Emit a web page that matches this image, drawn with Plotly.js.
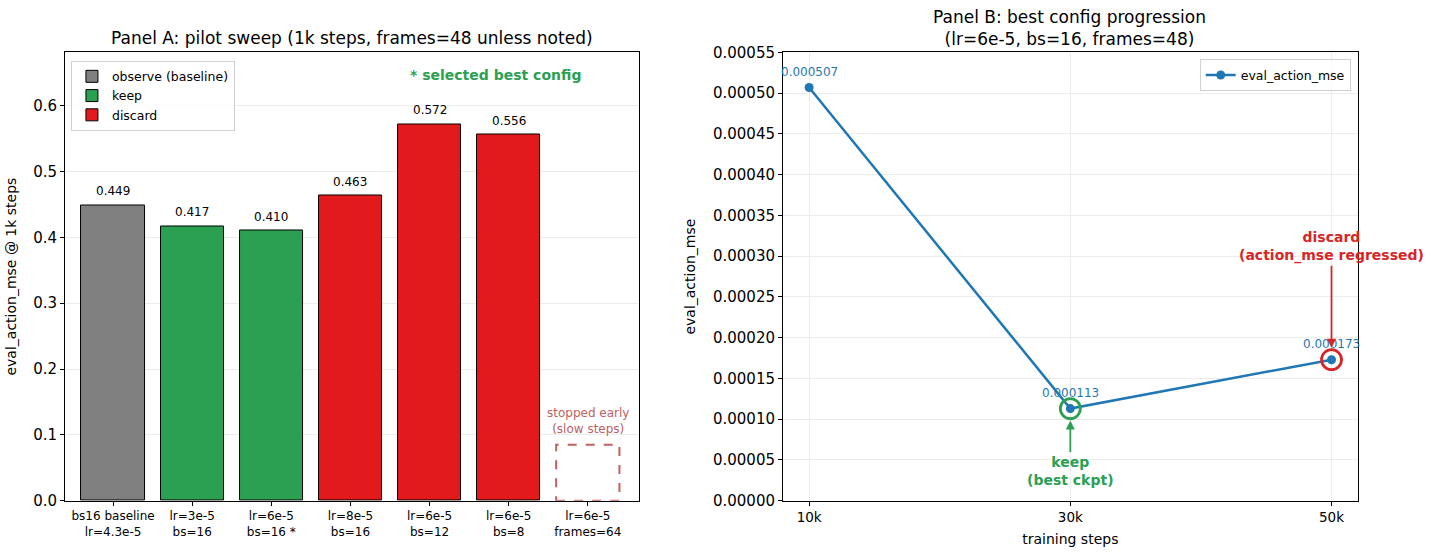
<!DOCTYPE html>
<html>
<head>
<meta charset="utf-8">
<script src="https://cdn.plot.ly/plotly-3.0.1.min.js"></script>
<style>
  body { margin: 0; background: #fff; }
  #chart { width: 1442px; height: 556px; }
</style>
</head>
<body>
<div id="chart"></div>
<script>
// Panel A: pilot sweep at 1k steps
const sweepLabels = ['bs16 baseline<br>lr=4.3e-5', 'lr=3e-5<br>bs=16', 'lr=6e-5<br>bs=16 *',
                     'lr=8e-5<br>bs=16', 'lr=6e-5<br>bs=12', 'lr=6e-5<br>bs=8', 'lr=6e-5<br>frames=64'];
const sweepMse = [0.449, 0.417, 0.410, 0.463, 0.572, 0.556, null];
const sweepStatus = ['observe', 'keep', 'keep', 'discard', 'discard', 'discard', 'stopped'];
const stoppedBoxHeight = 0.085;

// Panel B: best config progression
const steps = [10000, 30000, 50000];
const stepLabels = ['10k', '30k', '50k'];
const evalMse = [0.000507, 0.000113, 0.000173];
const keepIdx = 1;
const discardIdx = 2;

const FONT = 'DejaVu Sans, sans-serif';
const colors = { observe: '#808080', keep: '#2ca052', discard: '#e31a1c' };
const legendNames = { observe: 'observe (baseline)', keep: 'keep', discard: 'discard' };
const blue = '#1f77b4';
const red = '#d62728';
const stopColor = '#c0605f';

let traces = [];
['observe', 'keep', 'discard'].forEach(st => {
    let xs = [], ys = [];
    sweepMse.forEach((v, i) => {
        if (sweepStatus[i] === st) { xs.push(i); ys.push(v); }
    });
    traces.push({
        type: 'bar', x: xs, y: ys, name: legendNames[st], width: 0.8,
        marker: { color: colors[st], line: { color: '#000', width: 1 } },
        xaxis: 'x', yaxis: 'y', legend: 'legend', hoverinfo: 'x+y'
    });
});

traces.push({
    type: 'scatter', mode: 'lines+markers', x: steps, y: evalMse, name: 'eval_action_mse',
    line: { color: blue, width: 2.5 }, marker: { color: blue, size: 9 },
    xaxis: 'x2', yaxis: 'y2', legend: 'legend2'
});
// highlight rings round the kept and discarded checkpoints
traces.push({
    type: 'scatter', mode: 'markers', x: [steps[keepIdx]], y: [evalMse[keepIdx]], showlegend: false,
    marker: { size: 20, color: 'rgba(0,0,0,0)', line: { color: colors.keep, width: 2.8 } },
    xaxis: 'x2', yaxis: 'y2', hoverinfo: 'skip'
});
traces.push({
    type: 'scatter', mode: 'markers', x: [steps[discardIdx]], y: [evalMse[discardIdx]], showlegend: false,
    marker: { size: 20, color: 'rgba(0,0,0,0)', line: { color: red, width: 2.8 } },
    xaxis: 'x2', yaxis: 'y2', hoverinfo: 'skip'
});

let annotations = [];
sweepMse.forEach((v, i) => {
    if (v === null) return;
    annotations.push({
        x: i, y: v, xref: 'x', yref: 'y', text: v.toFixed(3), showarrow: false,
        yshift: 14, font: { family: FONT, size: 12, color: '#000' }
    });
});
const stopIdx = sweepStatus.indexOf('stopped');
annotations.push({
    x: stopIdx, y: stoppedBoxHeight, xref: 'x', yref: 'y', text: 'stopped early<br>(slow steps)',
    showarrow: false, yshift: 24, font: { family: FONT, size: 12, color: stopColor }
});
annotations.push({
    x: 0.75, y: 0.95, xref: 'x domain', yref: 'y domain', xanchor: 'center', yanchor: 'middle',
    text: '<b>* selected best config</b>', showarrow: false,
    font: { family: FONT, size: 14, color: colors.keep }
});
evalMse.forEach((v, i) => {
    annotations.push({
        x: steps[i], y: v, xref: 'x2', yref: 'y2', text: v.toFixed(6), showarrow: false,
        yshift: 16, font: { family: FONT, size: 12, color: blue }
    });
});
annotations.push({
    x: steps[keepIdx], y: evalMse[keepIdx], xref: 'x2', yref: 'y2',
    text: '<b>keep<br>(best ckpt)</b>', showarrow: true, ax: 0, ay: 62,
    arrowhead: 2, arrowsize: 1, arrowwidth: 1.8, arrowcolor: colors.keep, standoff: 12,
    font: { family: FONT, size: 14, color: colors.keep }
});
annotations.push({
    x: steps[discardIdx], y: evalMse[discardIdx], xref: 'x2', yref: 'y2',
    text: '<b>discard<br>(action_mse regressed)</b>', showarrow: true, ax: 0, ay: -113,
    arrowhead: 2, arrowsize: 1, arrowwidth: 1.8, arrowcolor: red, standoff: 12,
    font: { family: FONT, size: 14, color: red }
});
annotations.push(
    { x: 0.2441, y: 0.9317, xref: 'paper', yref: 'paper', xanchor: 'center', yanchor: 'middle',
      showarrow: false, text: 'Panel A: pilot sweep (1k steps, frames=48 unless noted)',
      font: { family: FONT, size: 17 } },
    { x: 0.742, y: 0.9505, xref: 'paper', yref: 'paper', xanchor: 'center', yanchor: 'middle',
      showarrow: false, text: 'Panel B: best config progression<br>(lr=6e-5, bs=16, frames=48)',
      font: { family: FONT, size: 17 } }
);

const axisBase = () => ({
    showline: true, linecolor: '#000', linewidth: 1, mirror: true,
    ticks: 'outside', ticklen: 4, tickcolor: '#000', zeroline: false,
    tickfont: { family: FONT, size: 15, color: '#000' }
});

let layout = {
    width: 1442, height: 556,
    margin: { l: 0, r: 0, t: 0, b: 0 },
    paper_bgcolor: '#fff', plot_bgcolor: '#fff',
    font: { family: FONT, color: '#000' },
    barmode: 'overlay', bargap: 0,
    xaxis: Object.assign(axisBase(), {
        domain: [0.0451, 0.4434], range: [-0.607, 6.652], showgrid: false,
        tickvals: sweepLabels.map((_, i) => i), ticktext: sweepLabels,
        tickfont: { family: FONT, size: 12, color: '#000' }
    }),
    yaxis: Object.assign(axisBase(), {
        domain: [0.0995, 0.9056], range: [0, 0.681], dtick: 0.1, tickformat: '.1f',
        showgrid: true, gridcolor: '#ececec',
        title: { text: 'eval_action_mse @ 1k steps', font: { family: FONT, size: 14 }, standoff: 13 }
    }),
    xaxis2: Object.assign(axisBase(), {
        domain: [0.543, 0.9415], range: [8000, 52000], anchor: 'y2',
        tickvals: steps, ticktext: stepLabels, showgrid: true, gridcolor: '#ececec',
        tickfont: { family: FONT, size: 13.5, color: '#000' },
        title: { text: 'training steps', font: { family: FONT, size: 14 }, standoff: 10 }
    }),
    yaxis2: Object.assign(axisBase(), {
        domain: [0.0995, 0.9056], range: [0, 0.00055], dtick: 0.00005, tickformat: '.5f',
        anchor: 'x2', showgrid: true, gridcolor: '#ececec',
        title: { text: 'eval_action_mse', font: { family: FONT, size: 14 }, standoff: 14 }
    }),
    legend: {
        x: 0.0492, y: 0.8908, xanchor: 'left', yanchor: 'top',
        bgcolor: 'rgba(255,255,255,0.8)', bordercolor: '#d0d0d0', borderwidth: 1,
        font: { family: FONT, size: 12.5 }, tracegroupgap: 0
    },
    legend2: {
        x: 0.9367, y: 0.8933, xanchor: 'right', yanchor: 'top',
        bgcolor: 'rgba(255,255,255,0.8)', bordercolor: '#d0d0d0', borderwidth: 1,
        font: { family: FONT, size: 12.5 }
    },
    shapes: [{
        type: 'rect', xref: 'x', yref: 'y',
        x0: stopIdx - 0.4, x1: stopIdx + 0.4, y0: 0, y1: stoppedBoxHeight,
        line: { color: stopColor, width: 2, dash: 'dash' }, fillcolor: 'rgba(0,0,0,0)'
    }],
    annotations: annotations
};

Plotly.newPlot('chart', traces, layout, { displayModeBar: false });
</script>
</body>
</html>
